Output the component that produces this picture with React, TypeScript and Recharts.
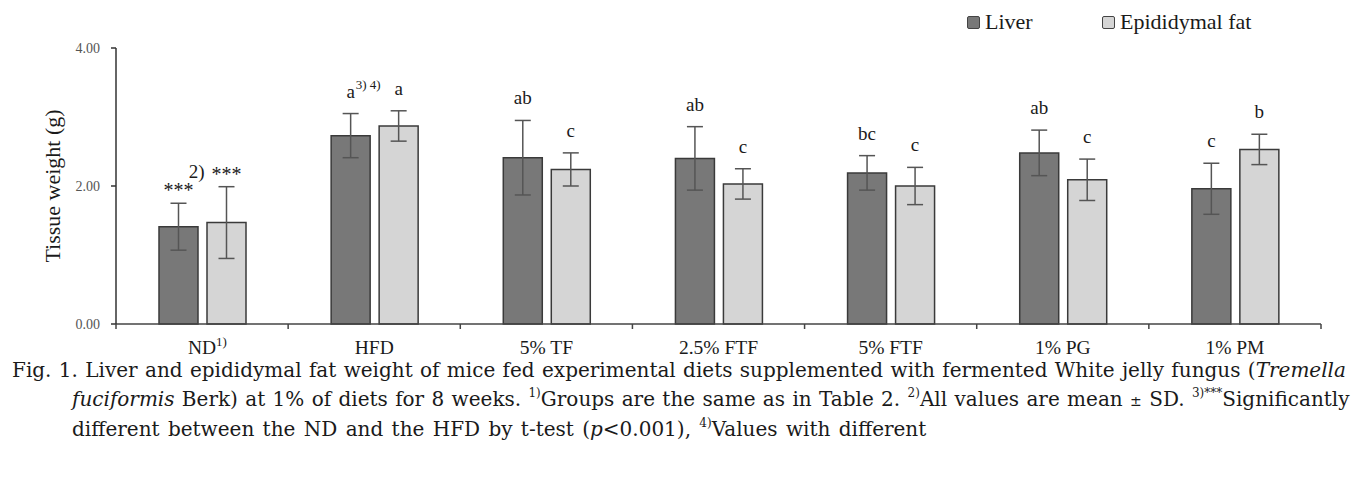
import { BarChart, Bar, XAxis, YAxis, ErrorBar, LabelList, Legend } from 'recharts';

const serif = '"Liberation Serif", "Times New Roman", serif';
const captionFont = '"DejaVu Serif", "Liberation Serif", serif';

const groups = ['ND', 'HFD', '5% TF', '2.5% FTF', '5% FTF', '1% PG', '1% PM'];
const groupNotes = ['1)', '', '', '', '', '', ''];
const seriesNames = ['Liver', 'Epididymal fat'];
const liverMean = [1.41, 2.73, 2.41, 2.4, 2.19, 2.48, 1.96];
const liverSd = [0.34, 0.32, 0.54, 0.46, 0.25, 0.33, 0.37];
const fatMean = [1.47, 2.87, 2.24, 2.03, 2.0, 2.09, 2.53];
const fatSd = [0.52, 0.22, 0.24, 0.22, 0.27, 0.3, 0.22];
const liverLetters = ['***', 'a', 'ab', 'ab', 'bc', 'ab', 'c'];
const liverNotes = ['', '3) 4)', '', '', '', '', ''];
const fatLetters = ['***', 'a', 'c', 'c', 'c', 'c', 'b'];
const fatNotes = ['2)', '', '', '', '', '', ''];
const yTicks = [0, 2, 4];

const colors = { liver: '#787878', fat: '#d5d5d5', edge: '#3a3a3a', err: '#555' };

const data = groups.map((g, i) => ({
  group: g,
  liver: liverMean[i],
  liverSd: liverSd[i],
  fat: fatMean[i],
  fatSd: fatSd[i],
}));

function GroupTick(props: any) {
  const { x, y, payload, index } = props;
  const half = payload.offset ?? 86;
  const axisY = y - 5;
  const note = groupNotes[index];
  const last = index === groups.length - 1;
  return (
    <g>
      <line x1={x - half} x2={x - half} y1={axisY} y2={axisY + 5} stroke="#444" strokeWidth={1.5} />
      {last && <line x1={x + half} x2={x + half} y1={axisY} y2={axisY + 5} stroke="#444" strokeWidth={1.5} />}
      {note ? (
        <>
          <text x={x + 14} y={axisY + 30} textAnchor="end" fontFamily={serif} fontSize={19.5} fill="#1a1a1a">
            {payload.value}
          </text>
          <text x={x + 14} y={axisY + 22} textAnchor="start" fontFamily={serif} fontSize={13} fill="#1a1a1a">
            {note}
          </text>
        </>
      ) : (
        <text x={x} y={axisY + 30} textAnchor="middle" fontFamily={serif} fontSize={19.5} fill="#1a1a1a">
          {payload.value}
        </text>
      )}
    </g>
  );
}

function makeSigLabel(means: number[], sds: number[], letters: string[], notes: string[], noteBefore: boolean) {
  return (props: any) => {
    const vb = props.viewBox ?? props;
    const { x, y, width, height } = vb;
    const i = props.index;
    if (i == null || x == null) return null;
    const perUnit = height / means[i];
    const errTop = y - sds[i] * perUnit;
    const letter = letters[i];
    const star = letter === '***';
    const base = errTop - (star ? 6 : 16);
    const cx = x + width / 2;
    const note = notes[i];
    return (
      <g>
        <text x={cx} y={base} textAnchor="middle" fontFamily={serif} fontSize={star ? 20 : 19} fill="#1a1a1a">
          {letter}
        </text>
        {note && noteBefore && (
          <text x={cx - 22} y={base - 3} textAnchor="end" fontFamily={serif} fontSize={19} fill="#1a1a1a">
            {note}
          </text>
        )}
        {note && !noteBefore && (
          <text x={cx + 5} y={base - 9} textAnchor="start" fontFamily={serif} fontSize={13} fill="#1a1a1a">
            {note}
          </text>
        )}
      </g>
    );
  };
}

function LegendBox() {
  const fills = [colors.liver, colors.fat];
  const widths = [135, 170];
  return (
    <div style={{ display: 'flex', height: 28, alignItems: 'center', fontFamily: serif, fontSize: 22, color: '#1a1a1a' }}>
      {seriesNames.map((n, i) => (
        <div key={n} style={{ display: 'flex', alignItems: 'center', width: widths[i] }}>
          <span
            style={{
              display: 'inline-block',
              width: 11,
              height: 11,
              background: fills[i],
              border: '1.5px solid #444',
              borderRadius: 2,
              marginRight: 5,
            }}
          />
          <span>{n}</span>
        </div>
      ))}
    </div>
  );
}

const sup = { fontSize: 12, position: 'relative' as const, top: -9, lineHeight: 0 };

export default function App() {
  return (
    <div style={{ width: 1358 }}>
      <BarChart
        width={1358}
        height={358}
        data={data}
        margin={{ top: 12, right: 45, bottom: 12, left: 10 }}
        barSize={39}
        barGap={9}
      >
        <Legend
          verticalAlign="top"
          align="right"
          content={() => <LegendBox />}
          wrapperStyle={{ top: 0, left: 959, width: 400 }}
        />
        <XAxis
          dataKey="group"
          tick={<GroupTick />}
          tickLine={false}
          tickSize={5}
          tickMargin={0}
          height={30}
          interval={0}
          stroke="#444"
          strokeWidth={1.5}
        />
        <YAxis
          domain={[0, 4]}
          ticks={yTicks}
          tickFormatter={(v: number) => v.toFixed(2)}
          width={98}
          tickSize={5}
          tickMargin={11}
          stroke="#333"
          strokeWidth={1.5}
          tick={{ fill: '#555', fontSize: 14, fontFamily: serif }}
          label={{
            value: 'Tissue weight (g)',
            angle: -90,
            position: 'insideLeft',
            offset: 34,
            style: { textAnchor: 'middle', fontFamily: serif, fontSize: 22, fill: '#1a1a1a' },
          }}
        />
        <Bar dataKey="liver" name={seriesNames[0]} fill={colors.liver} stroke={colors.edge} strokeWidth={1.5} isAnimationActive={false}>
          <ErrorBar dataKey="liverSd" width={8} stroke={colors.err} strokeWidth={1.5} direction="y" />
          <LabelList dataKey="liver" content={makeSigLabel(liverMean, liverSd, liverLetters, liverNotes, false)} />
        </Bar>
        <Bar dataKey="fat" name={seriesNames[1]} fill={colors.fat} stroke={colors.edge} strokeWidth={1.5} isAnimationActive={false}>
          <ErrorBar dataKey="fatSd" width={8} stroke={colors.err} strokeWidth={1.5} direction="y" />
          <LabelList dataKey="fat" content={makeSigLabel(fatMean, fatSd, fatLetters, fatNotes, true)} />
        </Bar>
      </BarChart>
      <div
        style={{
          width: 1337,
          marginTop: -10,
          fontFamily: captionFont,
          fontSize: 20,
          lineHeight: '28.5px',
          color: '#1a1a1a',
          whiteSpace: 'nowrap',
          wordSpacing: 1,
        }}
      >
        <div style={{ paddingLeft: 4, textAlign: 'justify', textAlignLast: 'justify' }}>
          Fig. 1. Liver and epididymal fat weight of mice fed experimental diets supplemented with fermented White jelly fungus (<i>Tremella</i>
        </div>
        <div style={{ paddingLeft: 64, textAlign: 'justify', textAlignLast: 'justify' }}>
          <i>fuciformis</i> Berk) at 1% of diets for 8 weeks. <span style={sup}>1)</span>Groups are the same as in Table 2.{' '}
          <span style={sup}>2)</span>All values are mean <span style={{ fontSize: 14 }}>±</span> SD. <span style={sup}>3)***</span>Significantly
        </div>
        <div style={{ paddingLeft: 64, wordSpacing: 2 }}>
          different between the ND and the HFD by t-test (<i>p</i>&lt;0.001), <span style={sup}>4)</span>Values with different
        </div>
      </div>
    </div>
  );
}
